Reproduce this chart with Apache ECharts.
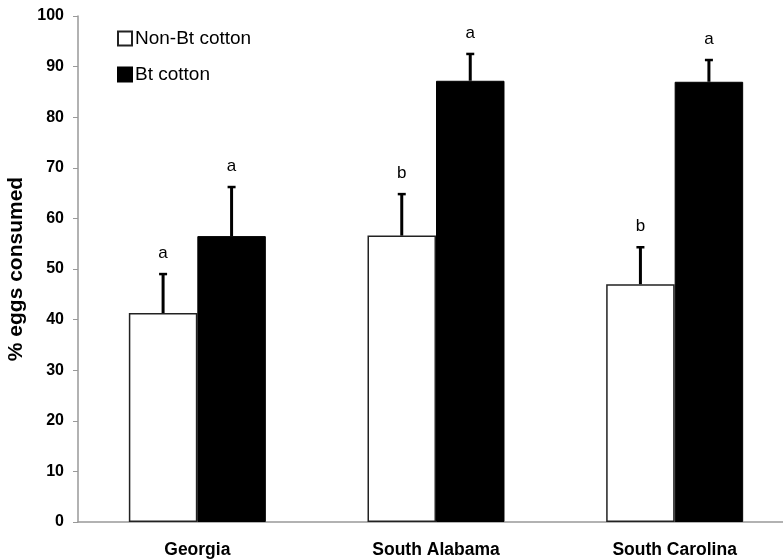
<!DOCTYPE html>
<html>
<head>
<meta charset="utf-8">
<script src="https://cdn.jsdelivr.net/npm/echarts@6/dist/echarts.min.js"></script>
<style>
  html, body { margin: 0; padding: 0; background: #fff; }
  #chart { width: 783px; height: 560px; }
</style>
</head>
<body>
<div id="chart"></div>
<script>
// data
const categories = ['Georgia', 'South Alabama', 'South Carolina'];
const nonBt = [41.3, 56.6, 47.0];
const bt = [56.5, 87.2, 87.0];
const nonBtErr = [7.7, 8.2, 7.3];
const btErr = [9.7, 5.3, 4.3];
const nonBtLetters = ['a', 'b', 'b'];
const btLetters = ['a', 'a', 'a'];
const yTicks = [0, 10, 20, 30, 40, 50, 60, 70, 80, 90, 100];

const FONT = 'Liberation Sans, Arial, sans-serif';
const CAT_GAP = 0.426; // share of a category left empty

let chart = echarts.init(document.getElementById('chart'));

// error bar + letter, drawn above one of the two bars in a group
function errRender(side, letters) {
    return function (params, api) {
        let idx = api.value(0);
        let val = api.value(1);
        let err = api.value(2);
        let band = api.size([1, 0])[0];
        let barW = band * (1 - CAT_GAP) / 2;
        let base = api.coord([idx, val]);
        let top = api.coord([idx, val + err]);
        let x = base[0] + side * barW / 2;
        return {
            type: 'group',
            children: [
                {
                    type: 'line',
                    shape: { x1: x, y1: base[1], x2: x, y2: top[1] },
                    style: { stroke: '#000', lineWidth: 3 }
                },
                {
                    type: 'line',
                    shape: { x1: x - 4, y1: top[1], x2: x + 4, y2: top[1] },
                    style: { stroke: '#000', lineWidth: 2.5 }
                },
                {
                    type: 'text',
                    x: x,
                    y: top[1] - 12,
                    style: {
                        text: letters[idx],
                        fill: '#000',
                        font: '17px ' + FONT,
                        align: 'center',
                        verticalAlign: 'bottom'
                    }
                }
            ]
        };
    };
}

chart.setOption({
    animation: false,
    backgroundColor: '#fff',
    // plot runs a little past the right edge in the original
    grid: { left: 78, width: 716, top: 16, bottom: 38, outerBoundsMode: 'none' },
    legend: {
        orient: 'vertical',
        left: 117,
        top: 29,
        padding: 0,
        itemGap: 17,
        itemWidth: 14,
        itemHeight: 14,
        icon: 'rect',
        textStyle: { fontFamily: FONT, fontSize: 19, color: '#000', padding: [0, 0, 0, -2] },
        data: ['Non-Bt cotton', 'Bt cotton']
    },
    xAxis: {
        type: 'category',
        data: categories,
        axisLine: { lineStyle: { color: '#999', width: 1.5 } },
        axisTick: { show: false },
        axisLabel: {
            fontFamily: FONT, fontSize: 17.5, fontWeight: 'bold', color: '#000', margin: 19
        }
    },
    yAxis: {
        type: 'value',
        min: 0,
        max: 100,
        interval: 10,
        name: '% eggs consumed',
        nameLocation: 'middle',
        nameGap: 43,
        nameTextStyle: { fontFamily: FONT, fontSize: 21, fontWeight: 'bold', color: '#000' },
        axisLine: { show: true, lineStyle: { color: '#999', width: 1.5 } },
        axisTick: { show: true, length: 5, lineStyle: { color: '#999' } },
        splitLine: { show: false },
        axisLabel: {
            fontFamily: FONT, fontSize: 16, fontWeight: 'bold', color: '#000', margin: 14,
            formatter: v => yTicks.includes(v) ? String(v) : ''
        }
    },
    series: [
        {
            name: 'Non-Bt cotton',
            type: 'bar',
            data: nonBt,
            barGap: '0%',
            barCategoryGap: (CAT_GAP * 100) + '%',
            itemStyle: { color: '#fff', borderColor: '#222', borderWidth: 1.5 }
        },
        {
            name: 'Bt cotton',
            type: 'bar',
            data: bt,
            itemStyle: { color: '#000', borderColor: '#000', borderWidth: 1 }
        },
        {
            type: 'custom',
            renderItem: errRender(-1, nonBtLetters),
            data: nonBt.map((v, i) => [i, v, nonBtErr[i]]),
            encode: { x: 0, y: 1 },
            z: 5
        },
        {
            type: 'custom',
            renderItem: errRender(1, btLetters),
            data: bt.map((v, i) => [i, v, btErr[i]]),
            encode: { x: 0, y: 1 },
            z: 5
        }
    ]
});
</script>
</body>
</html>
